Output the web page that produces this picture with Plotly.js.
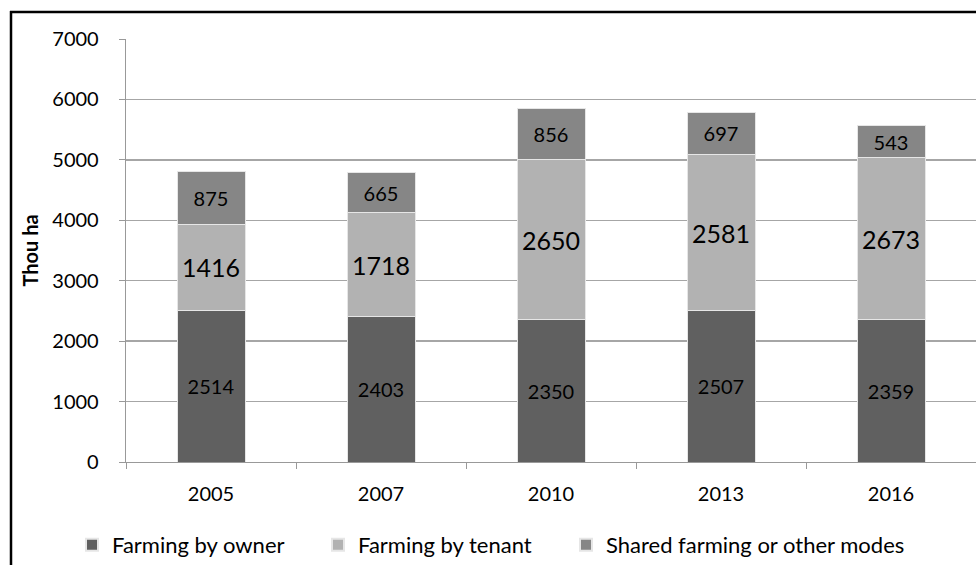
<!DOCTYPE html>
<html>
<head>
<meta charset="utf-8">
<script src="https://cdn.plot.ly/plotly-3.0.1.min.js"></script>
<style>
  html, body { margin: 0; padding: 0; background: #fff; }
  #chart { width: 976px; height: 565px; }
</style>
</head>
<body>
<div id="chart"></div>
<script>
// Cultivated land by mode of farming (thousand hectares)
const years = ['2005', '2007', '2010', '2013', '2016'];
const byOwner = [2514, 2403, 2350, 2507, 2359];
const byTenant = [1416, 1718, 2650, 2581, 2673];
const sharedOther = [875, 665, 856, 697, 543];

const FONT = 'Lato, "Open Sans", sans-serif';

function series(name, values, color, labelSize, legendId) {
  return {
    type: 'bar',
    name: name,
    x: years,
    y: values,
    legend: legendId,
    marker: { color: color, line: { color: '#e6e6e6', width: 1 } },
    text: values.map(String),
    textposition: 'inside',
    insidetextanchor: 'middle',
    textangle: 0,
    textfont: { family: FONT, size: labelSize, color: '#000' },
    hoverinfo: 'x+y+name'
  };
}

const data = [
  series('Farming by owner', byOwner, '#606060', 20, 'legend'),
  series('Farming by tenant', byTenant, '#b2b2b2', 25, 'legend2'),
  series('Shared farming or other modes', sharedOther, '#868686', 20, 'legend3')
];

// one legend box per series, laid out in a single row under the axis
function legendAt(left) {
  return {
    orientation: 'h',
    x: left / 976, xref: 'container', xanchor: 'left',
    y: 20 / 565, yref: 'container', yanchor: 'middle',
    font: { family: FONT, size: 22, color: '#000' },
    itemsizing: 'constant',
    itemwidth: 30
  };
}

// frame lines of the chart area (left and top edges)
const px = v => (v - 126) / 850;
const py = v => (462 - v) / 423;

const layout = {
  width: 976,
  height: 565,
  margin: { l: 126, r: 0, t: 39, b: 103 },
  paper_bgcolor: '#fff',
  plot_bgcolor: '#fff',
  barmode: 'stack',
  bargap: 0.6,
  font: { family: FONT, size: 20, color: '#000' },
  showlegend: true,
  legend: legendAt(72),
  legend2: legendAt(318),
  legend3: legendAt(566),
  xaxis: {
    type: 'category',
    showgrid: false,
    showline: true,
    linecolor: '#999',
    linewidth: 1.3,
    ticks: 'outside',
    tickson: 'boundaries',
    ticklen: 6,
    tickcolor: '#999',
    tickfont: { family: FONT, size: 20, color: '#000' },
    ticklabelstandoff: 14
  },
  yaxis: {
    range: [0, 7000],
    dtick: 1000,
    showgrid: true,
    gridcolor: '#a6a6a6',
    gridwidth: 1.5,
    zeroline: false,
    showline: true,
    linecolor: '#999',
    linewidth: 1.3,
    ticks: 'outside',
    ticklen: 6,
    tickcolor: '#999',
    tickfont: { family: FONT, size: 20, color: '#000' },
    ticklabelstandoff: 16,
    title: { text: '<b>Thou ha</b>', font: { family: FONT, size: 20, color: '#000' }, standoff: 8 }
  },
  shapes: [
    { type: 'line', xref: 'paper', yref: 'paper', x0: px(11), x1: px(11), y0: py(11), y1: py(570),
      line: { color: '#000', width: 2.5 } },
    { type: 'line', xref: 'paper', yref: 'paper', x0: px(10), x1: px(980), y0: py(12), y1: py(12),
      line: { color: '#000', width: 2.5 } }
  ]
};

Plotly.newPlot('chart', data, layout, { displayModeBar: false, staticPlot: true });
</script>
</body>
</html>
